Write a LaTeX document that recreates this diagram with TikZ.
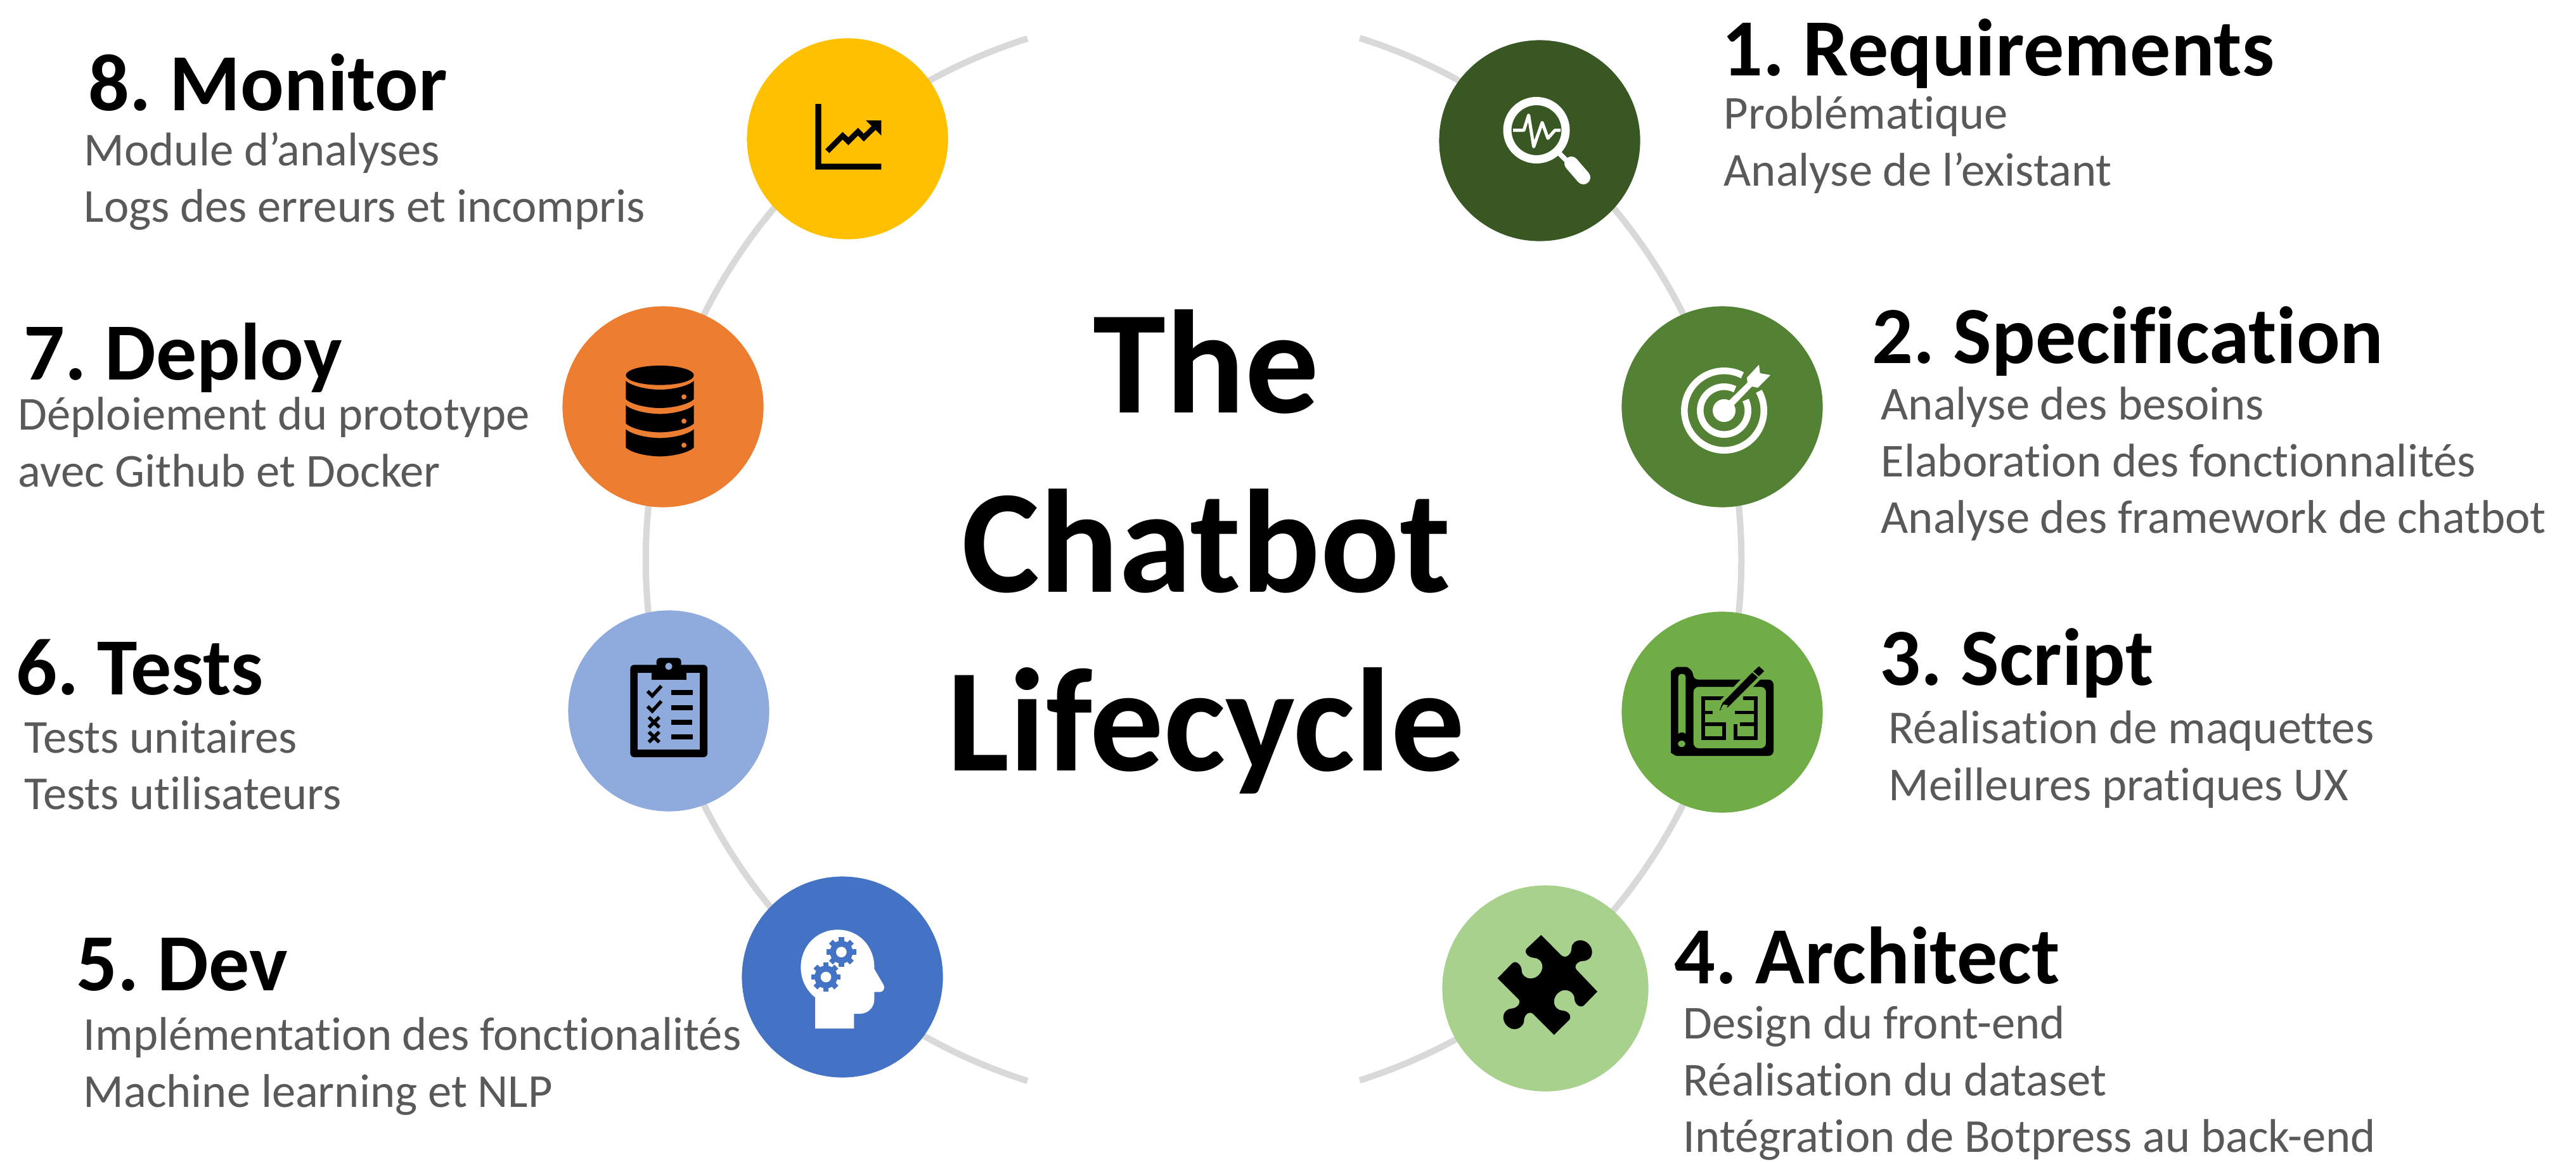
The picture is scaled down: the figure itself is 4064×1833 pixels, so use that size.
\documentclass[tikz,border=0pt]{standalone}
\usepackage{fontspec}
\setmainfont{Carlito}[RawFeature={-liga;-dlig;-clig}]
\frenchspacing
\definecolor{cA}{HTML}{385723}
\definecolor{cB}{HTML}{548235}
\definecolor{cC}{HTML}{70AD47}
\definecolor{cD}{HTML}{A9D18E}
\definecolor{cE}{HTML}{4472C4}
\definecolor{cF}{HTML}{8FAADC}
\definecolor{cG}{HTML}{ED7D31}
\definecolor{cH}{HTML}{FFC000}
\definecolor{ringgrey}{HTML}{D9D9D9}
\definecolor{bodygrey}{HTML}{595959}
\tikzset{
  stage/.style={circle,draw=none,inner sep=0pt,minimum size=3.17cm},
  ringline/.style={draw=ringgrey,line width=0.1cm},
  headtext/.style={anchor=base west,inner sep=0pt,font=\fontsize{36.4}{44}\selectfont\bfseries,text=black},
  bodytext/.style={anchor=north west,inner sep=0pt,align=left,text=bodygrey,font=\fontsize{21.2}{25.5}\selectfont,execute at begin node=\strut},
}
\newcommand{\gearicon}[2]{%
  \fill[cE] (#1,#2) circle[radius=54];
  \foreach \a in {0,45,...,315} \draw[cE,line width=0.085cm] (#1,#2) +(\a:48) -- +(\a:70);
  \fill[white] (#1,#2) circle[radius=25];
}
\begin{document}
\begin{tikzpicture}[x=0.01cm,y=-0.01cm]
\useasboundingbox (0,0) rectangle (4064,1833);
\fill[white] (0,0) rectangle (4064,1833);
% ring
\coordinate (arcTR) at (2145,60);
\coordinate (arcBL) at (1621,1706);
\draw[ringline] (arcTR) arc[start angle=-72.4,end angle=72.4,radius=863];
\draw[ringline] (arcBL) arc[start angle=107.6,end angle=252.4,radius=863];
% stages
\node[stage,fill=cA] (s1) at (2429,222) {};
\node[stage,fill=cB] (s2) at (2717,642) {};
\node[stage,fill=cC] (s3) at (2717,1124) {};
\node[stage,fill=cD,minimum size=3.25cm] (s4) at (2438,1560) {};
\node[stage,fill=cE] (s5) at (1329,1542) {};
\node[stage,fill=cF] (s6) at (1055,1122) {};
\node[stage,fill=cG] (s7) at (1046,642) {};
\node[stage,fill=cH] (s8) at (1337,219) {};
% icon 1: magnifier
\draw[white,line width=0.13cm] (2424,205.5) circle[radius=46];
\draw[white,line width=0.05cm,line join=round] (2387,205.7) -- (2404,205.7) -- (2411.6,181.7) -- (2419.6,231.7) -- (2433,193.3) -- (2442,218.3) -- (2453,205.7) -- (2462,205.7);
\draw[white,line width=0.08cm] (2458,240) -- (2476,258);
\draw[white,line width=0.22cm,line cap=round] (2479,258) -- (2498,280);
% icon 2: target
\draw[white,line width=0.105cm] (2720,648) +(-29:62.7) arc[start angle=-29,end angle=297.4,radius=62.7];
\draw[white,line width=0.105cm] (2720,648) +(-26:37.7) arc[start angle=-26,end angle=297,radius=37.7];
\fill[white] (2720,648) circle[radius=18];
\fill[white] (2728,632) -- (2756.7,604) -- (2764,610) -- (2736,639) -- cycle;
\fill[white] (2756,596) -- (2775,575.5) -- (2776.7,589) -- (2793,592) -- (2773,612) -- (2764,610) -- (2756.7,604) -- cycle;
% icon 3: blueprint
\fill[black,even odd rule,rounded corners=0.08cm] (2636,1068) .. controls (2636,1058) and (2645,1052.7) .. (2653,1052.7) .. controls (2662,1052.7) and (2671,1058) .. (2671,1072.6) -- (2798,1072.6) -- (2798,1193) -- (2653,1193) .. controls (2643,1193) and (2636,1188) .. (2636,1180) -- cycle
  (2671.7,1084) -- (2786,1084) -- (2786,1181) -- (2671.7,1181) -- cycle;
\fill[cC] (2647.7,1068) .. controls (2647.7,1062) and (2659.3,1062) .. (2659.3,1068) -- (2659.3,1158) .. controls (2655,1155) and (2652,1155) .. (2647.7,1158) -- cycle;
\fill[cC] (2653,1174) ellipse[x radius=6,y radius=5];
\draw[black,line width=0.055cm] (2725,1102) -- (2687,1102) -- (2687,1165) -- (2723,1165)
  (2687,1124.5) -- (2702,1124.5)
  (2687,1143) -- (2720,1143) -- (2720,1165)
  (2735,1165) -- (2770,1165) -- (2770,1102) -- (2750,1102)
  (2737,1124.5) -- (2770,1124.5)
  (2745,1143) -- (2770,1143)
  (2738,1143) -- (2738,1165);
\fill[black,draw=cC,line width=0.05cm] (2708,1126) -- (2715,1108) -- (2763,1059) -- (2775,1048) -- (2787,1059) -- (2728,1118) -- cycle;
\fill[cC] (2714,1120) -- (2719,1112) -- (2726,1113) -- (2723,1118) -- cycle;
\draw[cC,line width=0.02cm] (2763,1059) -- (2775,1069);
% icon 4: puzzle
\begin{scope}[shift={(2270,1380)},scale=1/3]
\fill[black] (484,287) -- (578,382) .. controls (600,402) and (628,380) .. (628,350) .. controls (628,325) and (650,312) .. (668,312) .. controls (700,312) and (725,340) .. (725,368) .. controls (725,395) and (705,410) .. (682,410) .. controls (660,410) and (635,432) .. (652,452) -- (750,555) -- (685,622) .. controls (665,635) and (642,610) .. (642,590) .. controls (642,565) and (620,548) .. (597,548) .. controls (570,548) and (545,575) .. (545,602) .. controls (545,628) and (565,645) .. (585,645) .. controls (605,645) and (632,665) .. (618,688) -- (545,760) -- (445,660) .. controls (425,645) and (403,668) .. (403,692) .. controls (403,715) and (380,733) .. (358,733) .. controls (330,733) and (305,705) .. (305,678) .. controls (305,652) and (325,635) .. (345,635) .. controls (365,635) and (392,612) .. (378,592) -- (278,492) -- (348,420) .. controls (368,405) and (392,432) .. (392,455) .. controls (392,478) and (412,493) .. (435,493) .. controls (465,493) and (490,465) .. (490,438) .. controls (490,412) and (470,395) .. (450,395) .. controls (430,395) and (400,375) .. (415,352) -- cycle;
\end{scope}
% icon 5: head with gears
\begin{scope}[shift={(1160,1370)},scale=1/3]
\fill[white] (378,760) -- (378,613) .. controls (335,578) and (310,528) .. (310,470) .. controls (310,370) and (385,292) .. (485,292) .. controls (585,292) and (658,370) .. (658,470) -- (658,478) -- (700,550) .. controls (712,570) and (700,587) .. (685,587) -- (658,587) -- (658,622) .. controls (658,660) and (628,690) .. (590,690) -- (562,690) -- (562,760) -- cycle;
\gearicon{502}{398}
\gearicon{429}{516}
\end{scope}
% icon 6: clipboard
\begin{scope}[shift={(880,950)},scale=1/3]
\fill[black,even odd rule,rounded corners=0.06cm] (343,298) -- (708,298) -- (708,735) -- (343,735) -- cycle;
\fill[cF] (378,335) rectangle (672,700);
\fill[black,rounded corners=0.06cm] (467,310) -- (467,265) -- (584,265) -- (584,310) -- cycle;
\fill[black] (443,320) rectangle (608,370);
\fill[cF] (525,305) circle[radius=17];
\draw[black,line width=0.055cm] (425,423) -- (447,445) -- (490,398);
\draw[black,line width=0.055cm] (425,495) -- (447,517) -- (490,470);
\draw[black,line width=0.055cm] (431,546) -- (480,594) (480,546) -- (431,594);
\draw[black,line width=0.055cm] (431,616) -- (480,664) (480,616) -- (431,664);
\fill[black] (537,417) rectangle (639,441);
\fill[black] (537,489) rectangle (639,513);
\fill[black] (537,558) rectangle (637,582);
\fill[black] (537,627) rectangle (639,651);
\end{scope}
% icon 7: database
\begin{scope}[shift={(880,470)},scale=1/3]
\fill[black] (483,367) ellipse[x radius=161,y radius=46];
\foreach \d in {0,115,229}{
  \fill[black] (322,393+\d) .. controls (350,420+\d) and (430,435+\d) .. (483,435+\d) .. controls (536,435+\d) and (616,420+\d) .. (644,393+\d) -- (644,480+\d) .. controls (616,507+\d) and (536,522+\d) .. (483,522+\d) .. controls (430,522+\d) and (350,507+\d) .. (322,480+\d) -- cycle;
  \fill[cG] (597,469+\d) circle[radius=12];
}
\end{scope}
% icon 8: chart
\begin{scope}[shift={(1170,50)},scale=1/3]
\fill[black] (349,342) -- (377,342) -- (377,625) -- (661,625) -- (661,653) -- (349,653) -- cycle;
\fill[black] (396,557) -- (478,475) -- (505,500) -- (551,455) -- (578,483) -- (615,447) -- (588,420) -- (661,420) -- (661,492) -- (634,465) -- (578,520) -- (551,492) -- (505,538) -- (478,511) -- (415,575) -- cycle;
\end{scope}
% title
\node[inner sep=0pt,align=center,font=\fontsize{66}{80.3}\selectfont\bfseries] (title) at (1903,871) {The\\Chatbot\\Lifecycle};
% texts
\node[headtext] (h1) at (2716,119) {1. Requirements};
\node[bodytext] (b1) at (2719,151) {Problématique\\Analyse de l’existant};
\node[headtext] (h2) at (2953,573) {2. Specification};
\node[bodytext] (b2) at (2967,610) {Analyse des besoins\\Elaboration des fonctionnalités\\Analyse des framework de chatbot};
\node[headtext] (h3) at (2965,1081) {3. Script};
\node[bodytext] (b3) at (2979,1121) {Réalisation de maquettes\\Meilleures pratiques UX};
\node[headtext] (h4) at (2641,1552) {4. Architect};
\node[bodytext] (b4) at (2655,1587) {Design du front-end\\Réalisation du dataset\\Intégration de Botpress au back-end};
\node[headtext] (h5) at (120,1563) {5. Dev};
\node[bodytext] (b5) at (131,1605) {Implémentation des fonctionalités\\Machine learning et NLP};
\node[headtext] (h6) at (25,1096) {6. Tests};
\node[bodytext] (b6) at (38,1136) {Tests unitaires\\Tests utilisateurs};
\node[headtext] (h7) at (37,599) {7. Deploy};
\node[bodytext] (b7) at (28,626) {Déploiement du prototype\\avec Github et Docker};
\node[headtext] (h8) at (139,174) {8. Monitor};
\node[bodytext] (b8) at (132,208) {Module d’analyses\\Logs des erreurs et incompris};
\end{tikzpicture}
\end{document}
